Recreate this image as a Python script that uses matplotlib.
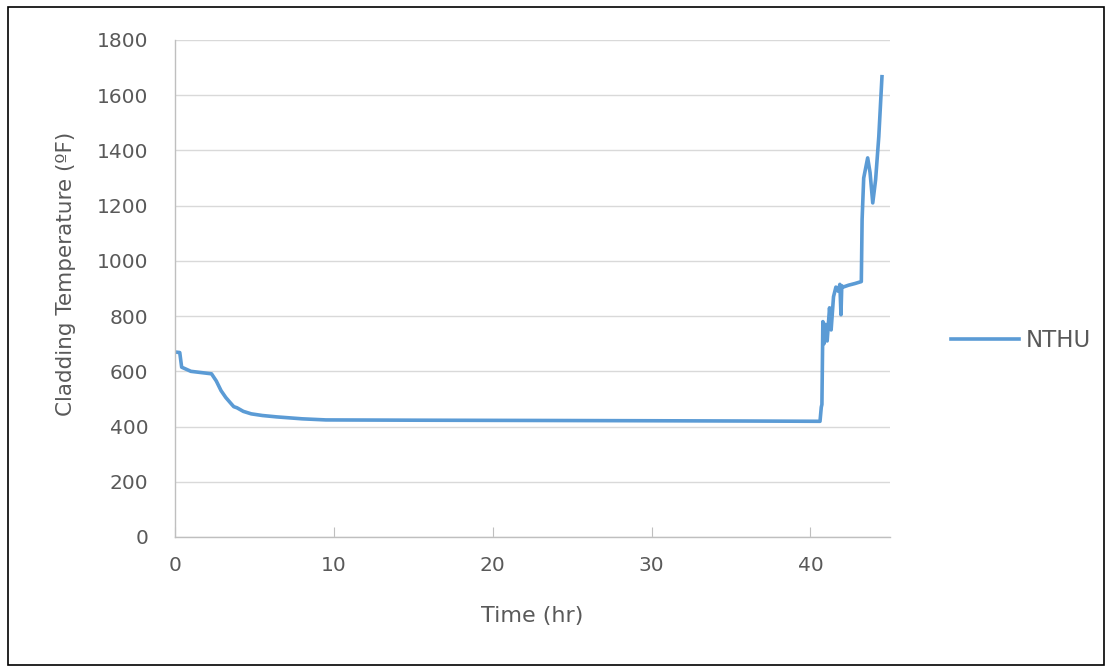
import matplotlib.pyplot as plt
from matplotlib.patches import Rectangle

# Cladding temperature history (hr, degF)
time_hr = [0.0, 0.3, 0.42, 1.0, 2.3, 2.6, 2.9, 3.2, 3.5, 3.7, 3.9, 4.3, 4.8,
           5.5, 6.4, 8.0, 9.5, 15.0, 23.0, 30.0, 36.0, 40.6, 40.68, 40.72,
           40.78, 40.85, 40.95, 41.05, 41.2, 41.3, 41.45, 41.6, 41.75, 41.85,
           41.92, 41.97, 42.05, 42.4, 42.8, 43.2, 43.25, 43.35, 43.6, 43.75,
           43.92, 44.1, 44.3, 44.5]
temp_f = [670, 668, 615, 600, 591, 565, 530, 505, 485, 472, 468, 455, 446,
          440, 435, 428, 424, 423, 422, 421, 420, 419, 470, 480,
          780, 700, 770, 710, 830, 750, 870, 905, 890, 915,
          805, 910, 905, 912, 918, 925, 1150, 1300, 1373, 1320,
          1210, 1294, 1450, 1667]

x_ticks = [0, 10, 20, 30, 40]
y_ticks = list(range(0, 1801, 200))

text_color = '#595959'
plt.rcParams['font.family'] = ['DejaVu Sans']

fig = plt.figure(figsize=(11.11, 6.72), dpi=100)
ax = fig.add_axes([0.1575, 0.2009, 0.6435, 0.7396])

line, = ax.plot(time_hr, temp_f, color='#5B9BD5', linewidth=2.6,
                solid_joinstyle='round', label='NTHU')

ax.set_xlim(0, 45)
ax.set_ylim(0, 1800)
ax.set_xticks(x_ticks)
ax.set_yticks(y_ticks)
ax.grid(axis='y', color='#d9d9d9', linewidth=1)
ax.set_axisbelow(True)

for side in ['top', 'right']:
    ax.spines[side].set_visible(False)
for side in ['left', 'bottom']:
    ax.spines[side].set_color('#bfbfbf')
    ax.spines[side].set_linewidth(1)

ax.tick_params(axis='x', direction='in', length=7, color='#bfbfbf',
               labelsize=14.5, labelcolor=text_color, pad=14)
ax.tick_params(axis='y', length=0, labelsize=14.5, labelcolor=text_color, pad=19)

ax.set_xlabel('Time (hr)', fontsize=16, color=text_color, labelpad=22)
ax.set_ylabel('Cladding Temperature (ºF)', fontsize=15.5, color=text_color)
ax.yaxis.set_label_coords(-0.138, 0.53)

fig.legend(handles=[line], loc='center left', bbox_to_anchor=(0.837, 0.494),
           frameon=False, fontsize=16.5, labelcolor=text_color,
           handlelength=3.0, handletextpad=0.3)

# thin black frame around the whole figure
fig.patches.append(Rectangle((0.007, 0.011), 0.987, 0.978, transform=fig.transFigure,
                             fill=False, edgecolor='black', linewidth=1.2))

fig.savefig('out.png', dpi=100)
